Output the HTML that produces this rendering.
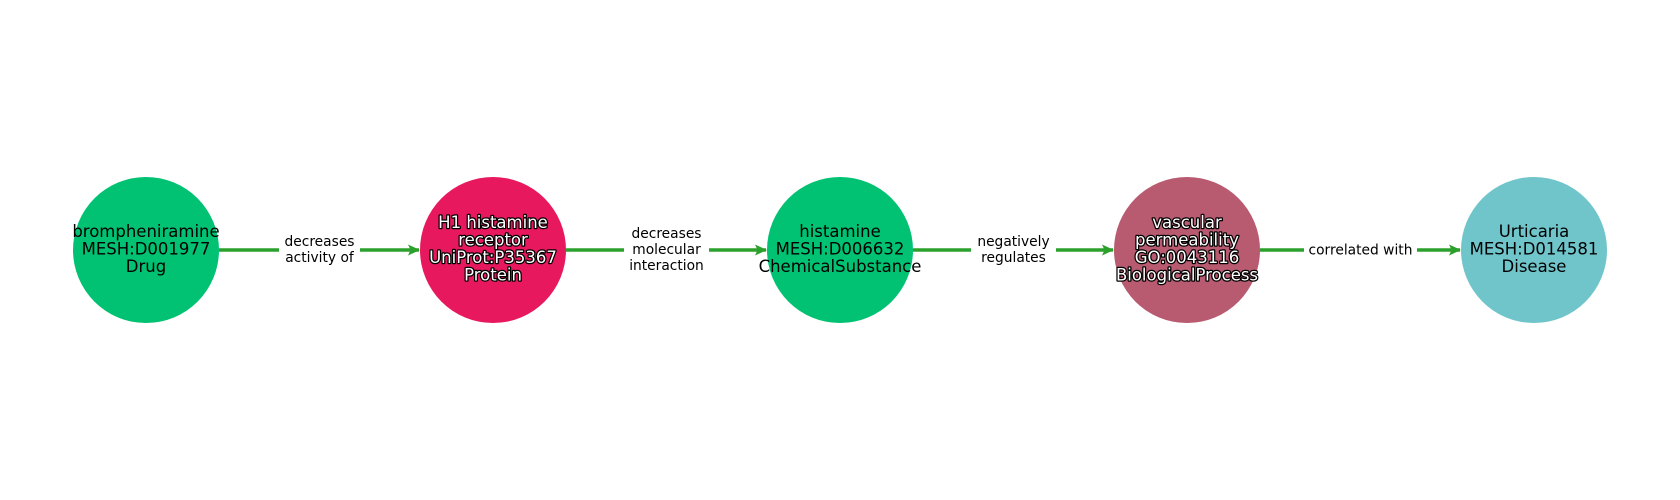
<!DOCTYPE html>
<html><head><meta charset="utf-8"><style>
html,body{margin:0;padding:0;background:#fff;}
svg{display:block;}
text{font-family:"DejaVu Sans","Liberation Sans",sans-serif;}
.n{font-size:16.5px;text-anchor:middle;fill:#000;}
.w{fill:#fff;stroke:#000;stroke-width:2.5px;paint-order:stroke;stroke-linejoin:round;}
.e{font-size:13.8px;text-anchor:middle;fill:#000;}
</style></head><body>
<svg width="1680" height="500" viewBox="0 0 1680 500">
<defs><marker id="a" markerWidth="14" markerHeight="14" refX="11" refY="6" orient="auto" markerUnits="userSpaceOnUse"><path d="M0,0.5 L12,6 L0,11.5 L2.5,6 Z" fill="#2ca02c"/></marker></defs>
<g stroke="#2ca02c" stroke-width="3.5" fill="none">
<line x1="219" y1="250" x2="419" y2="250" marker-end="url(#a)"/>
<line x1="566" y1="250" x2="766" y2="250" marker-end="url(#a)"/>
<line x1="913" y1="250" x2="1113" y2="250" marker-end="url(#a)"/>
<line x1="1260" y1="250" x2="1460" y2="250" marker-end="url(#a)"/>
</g>
<g fill="#fff">
<rect x="279" y="232" width="81" height="36"/>
<rect x="624" y="224" width="85" height="52"/>
<rect x="971" y="232" width="85" height="36"/>
<rect x="1304" y="240" width="113" height="20"/>
</g>
<g class="e">
<text x="319.5" y="246">decreases</text><text x="319.5" y="262">activity of</text>
<text x="666.5" y="238">decreases</text><text x="666.5" y="254">molecular</text><text x="666.5" y="270">interaction</text>
<text x="1013.5" y="246">negatively</text><text x="1013.5" y="262">regulates</text>
<text x="1360.5" y="254.5">correlated with</text>
</g>
<circle cx="146" cy="250" r="73" fill="#00c272"/>
<circle cx="493" cy="250" r="73" fill="#e8185f"/>
<circle cx="840" cy="250" r="73" fill="#00c272"/>
<circle cx="1187" cy="250" r="73" fill="#b85a70"/>
<circle cx="1534" cy="250" r="73" fill="#70c5cb"/>
<g class="n">
<text x="146" y="237">brompheniramine</text><text x="146" y="254.5">MESH:D001977</text><text x="146" y="272">Drug</text>
<text x="840" y="237">histamine</text><text x="840" y="254.5">MESH:D006632</text><text x="840" y="272">ChemicalSubstance</text>
<text x="1534" y="237">Urticaria</text><text x="1534" y="254.5">MESH:D014581</text><text x="1534" y="272">Disease</text>
</g>
<g class="n w">
<text x="493" y="228">H1 histamine</text><text x="493" y="245.5">receptor</text><text x="493" y="263">UniProt:P35367</text><text x="493" y="280.5">Protein</text>
<text x="1187" y="228">vascular</text><text x="1187" y="245.5">permeability</text><text x="1187" y="263">GO:0043116</text><text x="1187" y="280.5">BiologicalProcess</text>
</g>
</svg>
</body></html>
